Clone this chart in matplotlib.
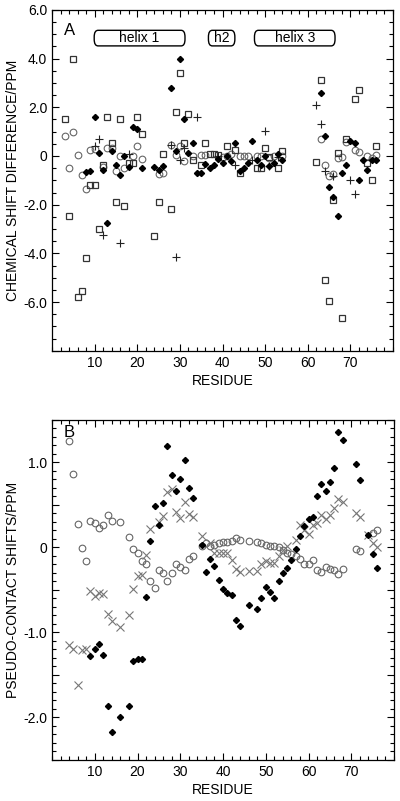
import matplotlib

matplotlib.use("Agg")

import matplotlib.pyplot as plt
from matplotlib.patches import FancyBboxPatch
from matplotlib.ticker import FuncFormatter, MultipleLocator

plt.rcParams["font.family"] = ["Liberation Sans", "DejaVu Sans"]
plt.rcParams["axes.unicode_minus"] = False

# panel A: chemical shift differences
a_sq_res = [3, 4, 5, 6, 7, 8, 9, 10, 11, 12, 13, 14, 15, 16, 17, 18, 19, 20, 21,
            24, 25, 26, 28, 29, 30, 31, 32, 33, 35, 36, 37, 38, 39, 41, 43, 44,
            48, 49, 50, 51, 53, 54, 62, 63, 64, 65, 66, 67, 68, 69, 71, 72, 74,
            75, 76]
a_sq_val = [1.52, -2.47, 4.0, -5.78, -5.53, -4.17, -1.19, -1.19, -3.0, -0.37,
            1.6, 0.52, -1.9, 1.5, -2.07, -0.29, -0.29, 1.6, 0.91, -3.27, -1.9,
            0.1, -2.17, 1.8, 3.4, 0.53, 1.72, -0.15, -0.37, 0.53, 0.1, 0.08,
            0.05, 0.42, 0.25, -0.7, -0.48, -0.48, 0.31, -0.05, -0.48, 0.21,
            -0.26, 3.1, -5.08, -5.97, -1.79, 0.11, -6.65, 0.7, 2.32, 2.72,
            -0.27, -0.97, 0.42]

a_dia_res = [8, 9, 10, 11, 12, 13, 14, 15, 16, 17, 18, 19, 20, 21, 24, 25, 26,
             28, 29, 30, 31, 32, 33, 34, 35, 36, 37, 38, 39, 40, 41, 42, 43, 44,
             45, 46, 47, 48, 49, 50, 51, 52, 53, 54, 63, 64, 65, 66, 67, 68, 69,
             70, 71, 72, 73, 74, 75, 76]
a_dia_val = [-0.67, -0.6, 1.61, 0.11, -0.56, -2.76, 0.22, -0.38, -0.77, 0.0,
             -0.47, 1.2, 1.12, -0.48, -0.45, -0.58, -0.4, 2.81, 0.22, 4.0, 1.5,
             0.11, 0.53, -0.69, -0.69, -0.33, -0.49, -0.37, -0.12, -0.29, 0.01,
             -0.19, 0.52, -0.6, -0.49, -0.29, 0.6, -0.18, -0.37, -0.01, -0.4,
             -0.27, 0.1, -0.16, 2.6, 0.81, -1.28, -1.68, -2.45, -0.7, -0.38,
             0.62, 0.53, -0.98, -0.18, -0.59, -0.16, -0.15]

a_plus_res = [10, 11, 12, 16, 18, 28, 29, 30, 31, 34, 39, 43, 47, 50, 51, 53,
              62, 63, 64, 66, 70, 71]
a_plus_val = [0.4, 0.7, -3.23, -3.57, 0.1, 0.45, -4.15, -0.15, 0.34, 1.61, 0.0,
              -0.38, -0.15, 1.02, -0.42, -0.05, 2.1, 1.3, -0.6, -0.84, -0.97,
              -1.58]

a_circ_res = [3, 4, 5, 6, 7, 8, 9, 10, 12, 13, 14, 15, 16, 17, 19, 20, 21, 25,
              26, 28, 29, 30, 31, 33, 35, 36, 40, 41, 42, 44, 45, 46, 48, 49, 51,
              52, 54, 63, 64, 65, 66, 67, 68, 69, 71, 72, 74, 75, 76]
a_circ_val = [0.82, -0.48, 1.0, 0.04, -0.77, -1.37, 0.26, 0.29, -0.45, 0.32,
              0.32, -0.63, 0.0, -0.48, 0.0, 0.39, -0.12, -0.73, -0.7, 0.45, 0.06,
              0.4, -0.21, 0.0, 0.03, 0.05, -0.05, 0.0, 0.08, 0.01, 0.01, 0.01,
              0.0, 0.0, -0.08, 0.0, 0.0, 0.7, -0.36, -0.84, -0.75, -0.1, -0.04,
              0.59, 0.26, 0.18, 0.01, -0.1, 0.04]

helix_names = ["helix 1", "h2", "helix 3"]
helix_start = [9.9, 36.7, 47.5]
helix_end = [31.2, 42.9, 66.4]

# panel B: pseudo-contact shifts
b_dia_res = [9, 10, 11, 12, 13, 14, 16, 18, 19, 20, 21, 22, 23, 24, 25, 26, 27,
             28, 29, 30, 31, 32, 33, 35, 36, 37, 38, 39, 40, 41, 42, 43, 44, 46,
             48, 49, 50, 51, 52, 53, 54, 55, 56, 57, 58, 59, 60, 61, 62, 63, 64,
             65, 66, 67, 68, 71, 72, 74, 75, 76]
b_dia_val = [-1.28, -1.2, -1.13, -1.26, -1.87, -2.17, -1.99, -1.87, -1.34,
             -1.31, -1.31, -0.58, 0.08, 0.49, 0.26, 0.52, 1.19, 0.85, 0.66, 0.81,
             1.03, 0.7, 0.58, 0.03, -0.29, -0.13, -0.22, -0.38, -0.49, -0.53,
             -0.56, -0.85, -0.92, -0.68, -0.72, -0.6, -0.46, -0.52, -0.6, -0.39,
             -0.3, -0.24, -0.15, -0.02, 0.13, 0.25, 0.34, 0.36, 0.6, 0.75, 0.66,
             0.77, 0.94, 1.36, 1.26, 0.98, 0.79, 0.15, -0.08, -0.24]

b_circ_res = [4, 5, 6, 7, 8, 9, 10, 11, 12, 13, 14, 16, 18, 19, 20, 21, 22, 23,
              24, 25, 26, 27, 28, 29, 30, 31, 32, 33, 35, 36, 37, 38, 39, 40, 41,
              42, 43, 44, 46, 48, 49, 50, 51, 52, 53, 54, 55, 56, 57, 58, 59, 60,
              61, 62, 63, 64, 65, 66, 67, 68, 71, 72, 75, 76]
b_circ_val = [1.25, 0.86, 0.28, -0.01, -0.16, 0.31, 0.29, 0.23, 0.27, 0.38,
              0.31, 0.3, 0.12, -0.02, -0.06, -0.16, -0.2, -0.4, -0.48, -0.27,
              -0.3, -0.39, -0.3, -0.2, -0.23, -0.27, -0.14, -0.1, 0.02, 0.05,
              0.02, 0.03, 0.05, 0.06, 0.07, 0.08, 0.11, 0.09, 0.08, 0.07, 0.05,
              0.03, 0.02, 0.02, 0.0, -0.03, -0.06, -0.08, -0.1, -0.13, -0.19,
              -0.19, -0.15, -0.27, -0.29, -0.23, -0.25, -0.26, -0.31, -0.25,
              -0.02, -0.04, 0.17, 0.2]

b_x_res = [4, 5, 6, 7, 8, 9, 10, 11, 12, 13, 14, 16, 18, 19, 20, 21, 22, 23, 25,
           26, 27, 28, 29, 30, 31, 32, 33, 35, 37, 38, 39, 40, 41, 42, 43, 44,
           46, 48, 49, 50, 51, 52, 53, 54, 55, 57, 58, 59, 60, 61, 62, 63, 64,
           65, 66, 67, 68, 71, 72, 74, 75, 76]
b_x_val = [-1.15, -1.19, -1.62, -1.21, -1.19, -0.51, -0.57, -0.53, -0.55, -0.78,
           -0.87, -0.94, -0.79, -0.49, -0.33, -0.32, -0.09, 0.22, 0.3, 0.37,
           0.65, 0.69, 0.42, 0.35, 0.53, 0.39, 0.36, 0.13, 0.05, -0.07, -0.06,
           -0.06, -0.07, -0.15, -0.25, -0.29, -0.28, -0.28, -0.2, -0.16, -0.18,
           -0.18, -0.1, -0.03, 0.02, 0.09, 0.26, 0.2, 0.16, 0.26, 0.29, 0.38,
           0.34, 0.38, 0.47, 0.57, 0.54, 0.41, 0.36, 0.15, 0.05, 0.01]


def tick_fmt(v, pos):
    if abs(v) < 1e-9:
        return "0"
    return f"{v:.1f}"


def style_axis(ax):
    ax.set_xlim(0, 80)
    ax.set_xticks(range(10, 80, 10))
    ax.xaxis.set_minor_locator(MultipleLocator(2))
    ax.tick_params(which="both", direction="in", top=True, right=True,
                   labelsize=10, width=0.8)
    ax.tick_params(which="major", length=5)
    ax.tick_params(which="minor", length=3)
    ax.set_xlabel("RESIDUE", fontsize=10, labelpad=3)
    for spine in ax.spines.values():
        spine.set_linewidth(0.9)


def main():
    fig = plt.figure(figsize=(4.0, 8.01), dpi=100)
    ax_a = fig.add_axes([0.13, 0.562, 0.8525, 0.4257])
    ax_b = fig.add_axes([0.13, 0.0512, 0.855, 0.4245])

    ax_a.plot(a_circ_res, a_circ_val, "o", ms=4.8, mfc="none", mec="#666666", mew=0.8)
    ax_a.plot(a_sq_res, a_sq_val, "s", ms=4.8, mfc="none", mec="#333333", mew=0.9)
    ax_a.plot(a_plus_res, a_plus_val, "+", ms=6, color="#222222", mew=0.8)
    ax_a.plot(a_dia_res, a_dia_val, "D", ms=3.1, color="black")

    style_axis(ax_a)
    ax_a.set_ylim(-8, 6)
    ax_a.yaxis.set_major_locator(MultipleLocator(2))
    ax_a.yaxis.set_minor_locator(MultipleLocator(0.5))
    ax_a.yaxis.set_major_formatter(
        FuncFormatter(lambda v, p: "" if v < -7 else tick_fmt(v, p)))
    ax_a.set_ylabel("CHEMICAL SHIFT DIFFERENCE/PPM", fontsize=10, labelpad=2)
    ax_a.text(0.035, 0.96, "A", transform=ax_a.transAxes, fontsize=12,
              va="top", ha="left")

    for name, x0, x1 in zip(helix_names, helix_start, helix_end):
        box = FancyBboxPatch((x0, 4.52), x1 - x0, 0.64,
                             boxstyle="round,pad=0,rounding_size=0.9",
                             mutation_aspect=0.3, fc="white", ec="black", lw=1.0)
        ax_a.add_patch(box)
        ax_a.text((x0 + x1) / 2, 4.84, name, ha="center", va="center", fontsize=10)

    ax_b.plot(b_circ_res, b_circ_val, "o", ms=4.8, mfc="none", mec="#666666", mew=0.8)
    ax_b.plot(b_x_res, b_x_val, "x", ms=5.2, color="#777777", mew=0.8)
    ax_b.plot(b_dia_res, b_dia_val, "D", ms=3.1, color="black")

    style_axis(ax_b)
    ax_b.set_ylim(-2.5, 1.5)
    ax_b.yaxis.set_major_locator(MultipleLocator(0.5))
    ax_b.yaxis.set_minor_locator(MultipleLocator(0.1))
    ax_b.yaxis.set_major_formatter(
        FuncFormatter(lambda v, p: tick_fmt(v, p) if abs(v - round(v)) < 1e-9 else ""))
    ax_b.set_ylabel("PSEUDO-CONTACT SHIFTS/PPM", fontsize=10, labelpad=2)
    ax_b.text(0.035, 0.985, "B", transform=ax_b.transAxes, fontsize=12,
              va="top", ha="left")

    fig.savefig("out.png", dpi=100)
    plt.close(fig)


if __name__ == "__main__":
    main()
